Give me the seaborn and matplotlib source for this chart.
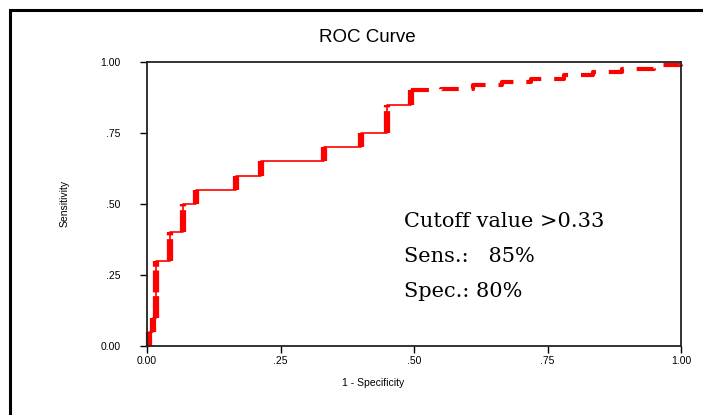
import numpy as np
import pandas as pd
import seaborn as sns
import matplotlib.pyplot as plt
from matplotlib.patches import Rectangle

# ROC step points (corner where each rise ends)
fpr = [0.004, 0.004, 0.011, 0.017, 0.044, 0.068, 0.091, 0.167, 0.214, 0.332, 0.400, 0.450, 0.494]
tpr = [0.00, 0.05, 0.10, 0.30, 0.40, 0.50, 0.55, 0.60, 0.65, 0.70, 0.75, 0.85, 0.90]

# upper tail after the cutoff, drawn dashed
tail_fpr = [0.494, 0.55, 0.61, 0.665, 0.72, 0.78, 0.835, 0.89, 0.95, 1.00]
tail_tpr = [0.90, 0.905, 0.92, 0.93, 0.94, 0.955, 0.965, 0.975, 0.99, 1.00]

ticks = [0, 0.25, 0.5, 0.75, 1.0]
tick_labels = ['0.00', '.25', '.50', '.75', '1.00']
note_lines = ['Cutoff value >0.33', 'Sens.:   85%', 'Spec.: 80%']

sns.set_style("white")
plt.rcParams['font.family'] = ['Liberation Sans', 'DejaVu Sans']
plt.rcParams['text.color'] = 'black'

W, H = 703, 415
fig = plt.figure(figsize=(W / 100, H / 100), dpi=100)
ax = fig.add_axes([147 / W, 1 - 346 / H, (681 - 147) / W, (346 - 62) / H])

df = pd.DataFrame({'fpr': fpr, 'tpr': tpr})
tail = pd.DataFrame({'fpr': tail_fpr, 'tpr': tail_tpr})

sns.lineplot(data=df, x='fpr', y='tpr', ax=ax, sort=False, estimator=None,
             drawstyle='steps-post', color='#ff0000', lw=1.2, clip_on=False)
# thick vertical rises
ax.vlines(fpr[1:], tpr[:-1], tpr[1:], color='#ff0000', lw=4.5,
          linestyles=[(0, (3.5, 0.6))], clip_on=False)
sns.lineplot(data=tail, x='fpr', y='tpr', ax=ax, sort=False, estimator=None,
             drawstyle='steps-post', color='#ff0000', lw=3,
             dashes=False, clip_on=False)
ax.lines[-1].set_linestyle((0, (4.3, 3.1)))

ax.set_xlim(0, 1)
ax.set_ylim(0, 1)
ax.set_xticks(ticks)
ax.set_xticklabels(tick_labels)
ax.set_yticks(ticks)
ax.set_yticklabels(tick_labels)
ax.tick_params(axis='both', direction='out', length=5, width=1, color='black',
               labelcolor='black', labelsize=7.5, bottom=True, left=True)
ax.tick_params(axis='x', pad=2)
ax.tick_params(axis='y', pad=14)
ax.set_xlabel('')
ax.set_ylabel('')
for s in ax.spines.values():
    s.set_color('#222222')
    s.set_linewidth(1.3)

fig.text(367 / W, 1 - 37 / H, 'ROC Curve', ha='center', va='center', fontsize=13.5)
fig.text(373 / W, 1 - 383 / H, '1 - Specificity', ha='center', va='center', fontsize=7.5)
fig.text(65 / W, 1 - 203 / H, 'Sensitivity', ha='center', va='center',
         rotation=90, fontsize=7.5)

for i, line in enumerate(note_lines):
    fig.text(404 / W, 1 - (221 + 35 * i) / H, line, ha='left', va='center',
             fontsize=15, family='DejaVu Serif')

# outer frame (only left/top edges fall inside the picture)
fig.patches.append(Rectangle((10 / W, -0.2), 1.2, 1.2 - 10 / H,
                             transform=fig.transFigure, fill=False,
                             edgecolor='black', lw=2.2, clip_on=False))

fig.savefig('out.png', dpi=100)
